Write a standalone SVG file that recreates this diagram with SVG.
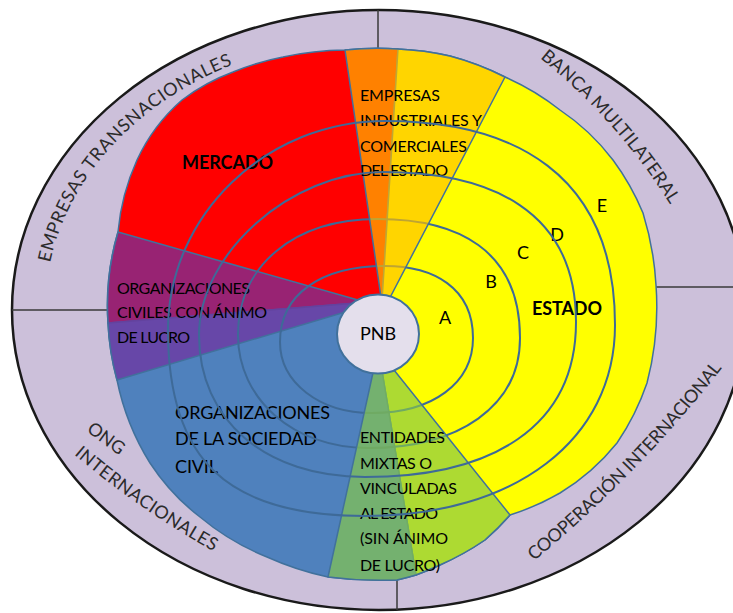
<svg xmlns="http://www.w3.org/2000/svg" width="733" height="613" viewBox="0 0 733 613">
<style>
.sec{stroke:#41719c;stroke-width:1.5;stroke-linejoin:round}
.ring{fill:none;stroke:#3e6a98;stroke-width:2}
.div{stroke:#3a3a3a;stroke-width:1.5}
.t{font-family:Lato,"Open Sans",sans-serif;fill:#000}
.s16{font-size:16px}
.s18{font-size:18px}
.bd{font-size:18px;font-weight:bold}
.band{font-family:Lato,"Open Sans",sans-serif;font-size:18px;fill:#2b2b2b}
</style>
<defs>
<path id="tpEmp" d="M 50.1,262.6 A 334 273 0 0 1 264.8,53.5"/>
<path id="tpBanca" d="M 540,58 Q 617,120.3 670,204 L 678,216.7"/>
<path id="tpCoop" d="M 534,561 Q 643,471 729,359"/>
<path id="tpOng" d="M 86,431 L 150,478"/>
<path id="tpInt" d="M 74,454.5 Q 139,509.4 213,551 L 226,557"/>
</defs>
<rect width="733" height="613" fill="#ffffff"/>
<g id="anillo-exterior">
<ellipse cx="379" cy="310" rx="367" ry="300" fill="#ccc0da" stroke="#1a1a1a" stroke-width="2.5"/>
<line class="div" x1="378" y1="10" x2="378" y2="48"/>
<line class="div" x1="12" y1="310" x2="107" y2="310"/>
<line class="div" x1="653" y1="287" x2="733" y2="287"/>
<line class="div" x1="397" y1="578" x2="397" y2="610"/>
<text class="band"><textPath href="#tpEmp" textLength="280">EMPRESAS TRANSNACIONALES</textPath></text>
<text class="band"><textPath href="#tpBanca" textLength="197">BANCA MULTILATERAL</textPath></text>
<text class="band"><textPath href="#tpCoop" textLength="270">COOPERACIÓN INTERNACIONAL</textPath></text>
<text class="band"><textPath href="#tpOng">ONG</textPath></text>
<text class="band"><textPath href="#tpInt" textLength="170">INTERNACIONALES</textPath></text>
</g>
<g id="mercado">
<path class="sec" fill="#ff0000" d="M 382,301 L 398,49 A 300 300 0 0 0 345,50 A 300 300 0 0 0 283,57 A 260 260 0 0 0 233,72 A 200 200 0 0 0 182,100 A 180 180 0 0 0 137,160 A 220 220 0 0 0 118,232 A 260 260 0 0 0 108,323 Z"/>
<text class="t bd" x="182" y="168.5" textLength="91">MERCADO</text>
</g>
<g id="estado">
<path class="sec" fill="#ffff00" d="M 382,301 L 398,49 A 300 300 0 0 1 450,56 A 280 280 0 0 1 505,77 A 250 250 0 0 1 560,110 A 220 220 0 0 1 613,160 A 250 250 0 0 1 643,213 A 300 300 0 0 1 656,285 A 300 300 0 0 1 647,383 A 250 250 0 0 1 617,443 A 220 220 0 0 1 560,493 A 250 250 0 0 1 510,515 A 260 260 0 0 1 485,540 A 280 280 0 0 1 440,565 A 300 300 0 0 1 416,575 L 383,377 L 378,340 Z"/>
<text class="t bd" x="532" y="314.5" textLength="70">ESTADO</text>
<g class="t s18" text-anchor="middle">
<text x="445" y="324">A</text>
<text x="491" y="288">B</text>
<text x="523" y="259">C</text>
<text x="557" y="241">D</text>
<text x="602" y="212">E</text>
</g>
</g>
<g id="sociedad-civil">
<path class="sec" fill="#4f81bd" d="M 382,301 L 108,323 A 260 260 0 0 0 117,380 A 250 250 0 0 0 150,463 A 220 220 0 0 0 200,517 A 250 250 0 0 0 267,557 A 300 300 0 0 0 328,577 A 400 400 0 0 0 397,580 A 300 300 0 0 0 416,575 L 383,377 L 378,340 Z"/>
<text class="t s18" x="175" y="418.5" textLength="155">ORGANIZACIONES</text>
<text class="t s18" x="175" y="444.5" textLength="142">DE LA SOCIEDAD</text>
<text class="t s18" x="175" y="472.5" textLength="43">CIVIL</text>
</g>
<g id="org-civiles-lucro">
<path class="sec" fill="#7030a0" fill-opacity="0.72" d="M 372,304 L 118,232 A 260 260 0 0 0 108,323 A 260 260 0 0 0 117,380 Z"/>
<text class="t s16" x="117" y="294" textLength="133">ORGANIZACIONES</text>
<text class="t s16" x="117" y="318" textLength="150">CIVILES CON ÁNIMO</text>
<text class="t s16" x="117" y="343" textLength="73">DE LUCRO</text>
</g>
<g id="anillos-internos">
<path class="ring" d="M 385,266 C 433.4,266 473,287.6 473,338 C 473,383 432.6,413 372,413 C 319.6,413 280,382.5 280,342 C 280,294.9 319.9,266 385,266 Z"/>
<path class="ring" d="M 378,219 C 456.1,219 520,248.8 520,338 C 520,406.2 459.2,448 368,448 C 293.9,448 238,399.4 238,335 C 238,265.4 294,219 378,219 Z"/>
</g>
<g id="empresas-estado">
<path class="sec" fill="#ffc000" fill-opacity="0.67" d="M 383,311 L 345,50 A 300 300 0 0 1 398,49 A 300 300 0 0 1 450,56 A 280 280 0 0 1 505,77 Z"/>
<text class="t s16" x="360" y="101" textLength="80">EMPRESAS</text>
<text class="t s16" x="360" y="126" textLength="122">INDUSTRIALES Y</text>
<text class="t s16" x="360" y="152" textLength="107">COMERCIALES</text>
<text class="t s16" x="360" y="176" textLength="88">DEL ESTADO</text>
</g>
<g id="entidades-mixtas">
<path class="sec" fill="#86c84a" fill-opacity="0.68" d="M 378,350 L 328,577 A 400 400 0 0 0 397,580 A 300 300 0 0 0 416,575 A 300 300 0 0 0 440,565 A 280 280 0 0 0 485,540 A 260 260 0 0 0 510,515 Z"/>
<text class="t s16" x="360" y="443" textLength="85">ENTIDADES</text>
<text class="t s16" x="360" y="469" textLength="72">MIXTAS O</text>
<text class="t s16" x="360" y="494" textLength="97">VINCULADAS</text>
<text class="t s16" x="360" y="519" textLength="78">AL ESTADO</text>
<text class="t s16" x="360" y="544" textLength="88">(SIN ÁNIMO</text>
<text class="t s16" x="360" y="571" textLength="80">DE LUCRO)</text>
</g>
<g id="anillos-externos">
<path class="ring" d="M 383,172 C 489.2,172 576,209.5 576,322 C 576,427.4 491.6,477 365,477 C 265.4,477 199,420.2 199,335 C 199,253.5 291,172 383,172 Z"/>
<path class="ring" d="M 385,121 C 511.5,121 615,172 615,325 C 615,439.6 515,516 365,516 C 227.1,516 168,460.2 168,330 C 168,215.1 265.7,121 385,121 Z"/>
</g>
<g id="pnb">
<ellipse cx="378" cy="334" rx="41" ry="39.5" fill="#e4dfec" stroke="#41719c" stroke-width="2"/>
<text class="t s18" x="378" y="340" text-anchor="middle">PNB</text>
</g>
</svg>
